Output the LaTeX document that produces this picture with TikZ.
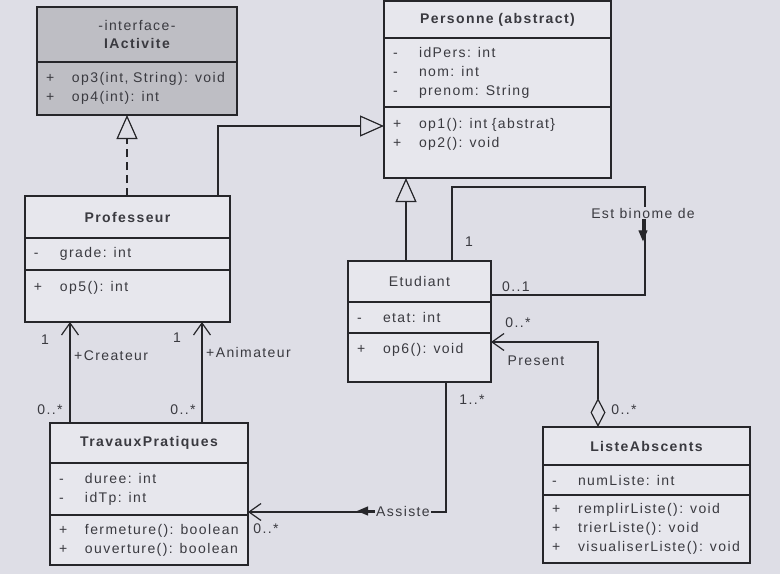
\documentclass[tikz,border=0pt]{standalone}
\usepackage{fontspec}
\setmainfont{Liberation Sans}[LetterSpace=10]
\usetikzlibrary{positioning,arrows.meta}
\definecolor{paper}{RGB}{222,222,230}
\definecolor{boxfill}{RGB}{231,231,237}
\definecolor{ifacefill}{RGB}{190,190,196}
\definecolor{ink}{RGB}{38,38,42}
\definecolor{txt}{RGB}{58,58,64}
\newcommand{\mbr}[2]{\makebox[26pt][l]{#1}#2}
\tikzset{
    comp/.style={
           rectangle,
           draw=ink, line width=1.2pt,
           fill=boxfill,
           inner xsep=9pt, inner ysep=0pt, outer sep=0pt,
           text=txt,
           align=left,
           font=\fontsize{14pt}{19pt}\selectfont
           },
    head/.style={
           comp,
           align=center,
           font=\fontsize{14pt}{18pt}\selectfont\bfseries
           },
    lbl/.style={
           text=txt,
           inner sep=1pt,
           font=\fontsize{14pt}{17pt}\selectfont
           },
    assoc/.style={
           draw=ink, line width=1.2pt
           },
    gen/.style={
           assoc,
           -{Triangle[open, width=21pt, length=24pt]}
           },
    realize/.style={
           gen,
           dash pattern=on 8pt off 5pt
           },
    nav/.style={
           assoc,
           -{Straight Barb[length=12pt, width=17pt]}
           },
    aggr/.style={
           assoc,
           {Diamond[open, length=29pt, width=15pt]}-{Straight Barb[length=12pt, width=17pt]}
           },
    dirtip/.style={
           assoc,
           -{Triangle[width=9pt, length=11pt]}
           }
}
\begin{document}
\begin{tikzpicture}[x=1pt, y=-1pt]
\fill[paper] (0,0) rectangle (780,574);
\useasboundingbox (0,0) rectangle (780,574);
% interface
   \node[head, fill=ifacefill, text width=182pt, minimum height=55pt, anchor=north west] (iact-head) at (37,7)
        {\textmd{-interface-}\\ IActivite};
   \node[comp, fill=ifacefill, text width=182pt, minimum height=53pt, below=0pt of iact-head] (iact-ops)
        {\mbr{+}{op3(int, String): void}\\ \mbr{+}{op4(int): int}};
% Personne
   \node[head, text width=209pt, minimum height=37pt, anchor=north west] (pers-head) at (384,1) {Personne (abstract)};
   \node[comp, text width=209pt, minimum height=69pt, below=0pt of pers-head] (pers-attr)
        {\mbr{-}{idPers: int}\\ \mbr{-}{nom: int}\\ \mbr{-}{prenom: String}};
   \node[comp, text width=209pt, minimum height=71pt, below=0pt of pers-attr] (pers-ops)
        {\mbr{+}{op1(): int \{abstrat\}}\\ \mbr{+}{op2(): void}\\ \mbox{}};
% Professeur
   \node[head, text width=187pt, minimum height=42pt, anchor=north west] (prof-head) at (25,196) {Professeur};
   \node[comp, text width=187pt, minimum height=32pt, below=0pt of prof-head] (prof-attr) {\mbr{-}{grade: int}};
   \node[comp, text width=187pt, minimum height=52pt, below=0pt of prof-attr] (prof-ops)
        {\mbr{+}{op5(): int}\\ \mbox{}};
% Etudiant
   \node[head, font=\fontsize{14pt}{18pt}\selectfont, text width=125pt, minimum height=41pt, anchor=north west] (etud-head) at (348,261) {Etudiant};
   \node[comp, text width=125pt, minimum height=31pt, below=0pt of etud-head] (etud-attr) {\mbr{-}{etat: int}};
   \node[comp, text width=125pt, minimum height=49pt, below=0pt of etud-attr] (etud-ops)
        {\mbr{+}{op6(): void}\\ \mbox{}};
% TravauxPratiques
   \node[head, text width=180pt, minimum height=40pt, anchor=north west] (tp-head) at (50,423) {TravauxPratiques};
   \node[comp, text width=180pt, minimum height=52pt, below=0pt of tp-head] (tp-attr)
        {\mbr{-}{duree: int}\\ \mbr{-}{idTp: int}};
   \node[comp, text width=180pt, minimum height=50pt, below=0pt of tp-attr] (tp-ops)
        {\mbr{+}{fermeture(): boolean}\\ \mbr{+}{ouverture(): boolean}};
% ListeAbscents
   \node[head, text width=189pt, minimum height=38pt, anchor=north west] (liste-head) at (543,427) {ListeAbscents};
   \node[comp, text width=189pt, minimum height=30pt, below=0pt of liste-head] (liste-attr) {\mbr{-}{numListe: int}};
   \node[comp, text width=189pt, minimum height=68pt, below=0pt of liste-attr] (liste-ops)
        {\mbr{+}{remplirListe(): void}\\ \mbr{+}{trierListe(): void}\\ \mbr{+}{visualiserListe(): void}};
% links
   \coordinate (binome) at (645,187);
   \path[realize] (prof-head.north -| 127,0) -- (iact-ops.south -| 127,0);
   \path[gen] (prof-head.north -| 218,0) |- (pers-ops.west |- 0,126);
   \path[gen] (etud-head.north -| 406,0) -- (pers-ops.south -| 406,0);
   \path[assoc] (etud-head.north -| 452,0) |- (binome) |- (etud-head.east |- 0,295);
   \path[nav] (tp-head.north -| 70,0) -- (prof-ops.south -| 70,0);
   \path[nav] (tp-head.north -| 202,0) -- (prof-ops.south -| 202,0);
   \path[nav] (etud-ops.south -| 446,0) |- (tp-attr.east |- 0,512);
   \path[aggr] (liste-head.north -| 598,0) |- (etud-ops.east |- 0,342);
% labels
   \node[lbl, fill=paper] (binlbl) at (643,213) {Est binome de};
   \path[dirtip] (binlbl.south) -- ++(0,22);
   \node[lbl, fill=paper] (assiste) at (403,511) {Assiste};
   \path[dirtip] (assiste.west) -- ++(-18,0);
   \node[lbl] (m1) at (45,340) {1};
   \node[lbl, anchor=west] (createur) at (73,356) {+Createur};
   \node[lbl] (m2) at (50,410) {0..*};
   \node[lbl] (m3) at (177,338) {1};
   \node[lbl, anchor=west] (animateur) at (205,352) {+Animateur};
   \node[lbl] (m4) at (183,410) {0..*};
   \node[lbl] (m5) at (469,242) {1};
   \node[lbl] (m6) at (516,287) {0..1};
   \node[lbl] (m7) at (518,323) {0..*};
   \node[lbl] (present) at (536,361) {Present};
   \node[lbl] (m8) at (624,410) {0..*};
   \node[lbl] (m9) at (472,400) {1..*};
   \node[lbl] (m10) at (266,529) {0..*};
\end{tikzpicture}
\end{document}
